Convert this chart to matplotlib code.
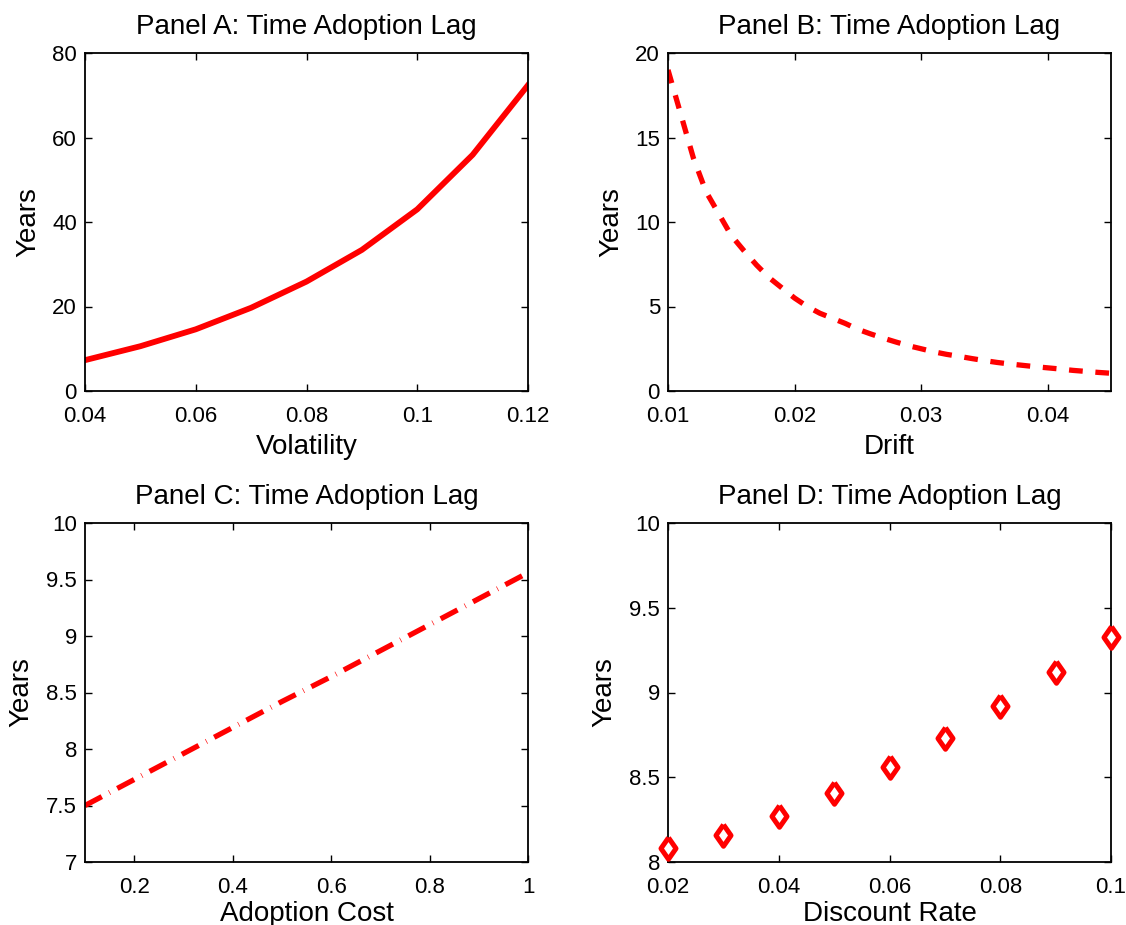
import matplotlib
matplotlib.use("Agg")
import matplotlib.pyplot as plt
from matplotlib.ticker import FuncFormatter
from matplotlib.markers import MarkerStyle

plt.rcParams['font.family'] = ['Liberation Sans', 'DejaVu Sans']

# Panel A: volatility
vol = [0.04, 0.05, 0.06, 0.07, 0.08, 0.09, 0.10, 0.11, 0.12]
lag_vol = [7.3, 10.6, 14.6, 19.7, 25.9, 33.4, 43.0, 55.9, 72.4]

# Panel B: drift
drift = [0.010, 0.011, 0.012, 0.013, 0.014, 0.015, 0.016, 0.017, 0.018, 0.019,
         0.020, 0.021, 0.022, 0.023, 0.024, 0.025, 0.026, 0.027, 0.028, 0.029,
         0.030, 0.031, 0.032, 0.033, 0.034, 0.035, 0.036, 0.037, 0.038, 0.039,
         0.040, 0.041, 0.042, 0.043, 0.044, 0.045]
lag_drift = [19.0, 16.4, 13.8, 11.8, 10.5, 9.2, 8.3, 7.45, 6.7, 6.1,
             5.5, 5.0, 4.6, 4.3, 4.0, 3.65, 3.38, 3.13, 2.9, 2.68,
             2.5, 2.32, 2.17, 2.05, 1.92, 1.8, 1.69, 1.6, 1.52, 1.44,
             1.37, 1.3, 1.22, 1.16, 1.1, 1.05]

# Panel C: adoption cost
cost = [0.1, 0.2, 0.3, 0.4, 0.5, 0.6, 0.7, 0.8, 0.9, 1.0]
lag_cost = [7.50, 7.73, 7.96, 8.19, 8.42, 8.64, 8.87, 9.10, 9.33, 9.56]

# Panel D: discount rate
rate = [0.02, 0.03, 0.04, 0.05, 0.06, 0.07, 0.08, 0.09, 0.10]
lag_rate = [8.08, 8.16, 8.27, 8.41, 8.56, 8.73, 8.92, 9.12, 9.33]

fig = plt.figure(figsize=(11.26, 9.25), dpi=100)
W, H = 1126, 925


def make_ax(x0, y0, x1, y1):
    # pixel box (top-left origin) -> figure fraction
    return fig.add_axes([x0 / W, 1 - y1 / H, (x1 - x0) / W, (y1 - y0) / H])


axA = make_ax(85, 53, 528, 391)
axB = make_ax(668, 53, 1111, 391)
axC = make_ax(85, 523, 528, 862)
axD = make_ax(668, 523, 1111, 862)

fmt = FuncFormatter(lambda v, p: "%g" % round(v, 4))
red = "#ff0000"

# MATLAB-style diamond (taller than wide)
diamond = MarkerStyle([(0, 1), (0.7, 0), (0, -1), (-0.7, 0), (0, 1)],
                      joinstyle="miter")

axA.plot(vol, lag_vol, color=red, lw=4.2)
axA.set_xlim(0.04, 0.12)
axA.set_ylim(0, 80)
axA.set_xticks([0.04, 0.06, 0.08, 0.10, 0.12])
axA.set_yticks([0, 20, 40, 60, 80])
axA.set_xlabel("Volatility")
axA.set_title("Panel A: Time Adoption Lag")

axB.plot(drift, lag_drift, color=red, lw=3.8, dashes=(2.6, 2.4))
axB.set_xlim(0.01, 0.045)
axB.set_ylim(0, 20)
axB.set_xticks([0.01, 0.02, 0.03, 0.04])
axB.set_yticks([0, 5, 10, 15, 20])
axB.set_xlabel("Drift")
axB.set_title("Panel B: Time Adoption Lag")

axC.plot(cost, lag_cost, color=red, lw=3.8, dashes=(3.6, 1.6, 0.12, 1.6))
axC.set_xlim(0.1, 1.0)
axC.set_ylim(7, 10)
axC.set_xticks([0.2, 0.4, 0.6, 0.8, 1.0])
axC.set_yticks([7, 7.5, 8, 8.5, 9, 9.5, 10])
axC.set_xlabel("Adoption Cost")
axC.set_title("Panel C: Time Adoption Lag")

axD.plot(rate, lag_rate, linestyle="none", marker=diamond, ms=15.5, mew=3.6,
         mec=red, mfc="white", clip_on=False, zorder=5)
axD.set_xlim(0.02, 0.10)
axD.set_ylim(8, 10)
axD.set_xticks([0.02, 0.04, 0.06, 0.08, 0.10])
axD.set_yticks([8, 8.5, 9, 9.5, 10])
axD.set_xlabel("Discount Rate")
axD.set_title("Panel D: Time Adoption Lag")

ylab_x = {axA: -0.099, axB: -0.099, axC: -0.115, axD: -0.115}
xlab_pad = {axA: 5, axB: 5, axC: 2.5, axD: 2.5}
for ax in [axA, axB, axC, axD]:
    ax.xaxis.set_major_formatter(fmt)
    ax.yaxis.set_major_formatter(fmt)
    ax.tick_params(direction="in", length=5, width=1, top=True, right=True,
                   labelsize=16)
    ax.tick_params(axis="x", pad=10.5)
    ax.tick_params(axis="y", pad=5.8)
    for s in ax.spines.values():
        s.set_linewidth(1.3)
    ax.set_ylabel("Years", fontsize=20)
    ax.yaxis.set_label_coords(ylab_x[ax], 0.5)
    ax.xaxis.label.set_size(20)
    ax.xaxis.labelpad = xlab_pad[ax]
    ax.set_title(ax.get_title(), fontsize=20, pad=14)

fig.savefig("out.png", dpi=100)
